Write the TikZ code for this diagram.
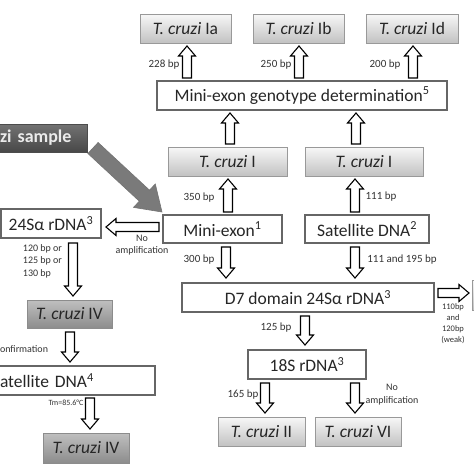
\documentclass[tikz,border=0pt]{standalone}
\usepackage{fontspec}
\setmainfont{Carlito}
\usetikzlibrary{calc,shadows}

% block (hollow) arrow between two coordinates
\newcommand{\blockarrow}[6][]{%
  \coordinate (ba) at #2;
  \coordinate (bb) at #3;
  \coordinate (bh) at ($(bb)!#6!(ba)$);
  \draw[#1] ($(ba)!#4!90:(bb)$) -- ($(bh)!#4!-90:(ba)$) -- ($(bh)!#5!-90:(ba)$) -- (bb)
    -- ($(bh)!#5!90:(ba)$) -- ($(bh)!#4!90:(ba)$) -- ($(ba)!#4!-90:(bb)$) -- cycle;
}

\begin{document}
\begin{tikzpicture}[x=1pt,y=-1pt,
  every node/.style={inner sep=0pt, outer sep=0pt},
  box/.style={font=\fontsize{17.5}{20}\selectfont, text=black!85, minimum height=29pt},
  whitebox/.style={box, draw=black!60, line width=1.1pt, fill=white},
  shad/.style={drop shadow={opacity=0.35, shadow xshift=1.3pt, shadow yshift=-1.3pt}},
  lightbox/.style={box, shad, draw=black!40, line width=0.8pt, top color=black!3, bottom color=black!24},
  darkbox/.style={box, shad, draw=black!45, line width=0.8pt, top color=black!25, bottom color=black!45},
  samplebox/.style={shad, draw=black!70, line width=0.8pt, top color=black!55, bottom color=black!72,
     font=\bfseries\fontsize{18}{20}\selectfont, text=black!8, minimum height=28pt},
  lbl/.style={font=\fontsize{11}{12}\selectfont, text=black!80},
  slbl/.style={font=\fontsize{10}{12.5}\selectfont, text=black!80},
  hollow/.style={draw=black, line width=1.1pt, fill=white, line join=miter},
  bigarrow/.style={draw=black!55, line width=0.6pt, fill=black!52, line join=miter}
]
\useasboundingbox (0,0) rectangle (474,474);
\clip (0,0) rectangle (474,474);
\fill[white] (0,0) rectangle (474,474);

% --- top row ---
\node[lightbox, minimum width=91pt] (ia) at (185.5,28.5) {\textit{T. cruzi} Ia};
\node[lightbox, minimum width=91pt] (ib) at (298.5,28.5) {\textit{T. cruzi} Ib};
\node[lightbox, minimum width=92pt] (id) at (412,28.5) {\textit{T. cruzi} Id};

\node[whitebox, minimum width=290pt] (geno) at (302,95.5) {Mini-exon genotype determination\textsuperscript{5}};

\node[lightbox, minimum width=119pt] (tcIa) at (227.5,161.5) {\textit{T. cruzi} I};
\node[lightbox, minimum width=118pt] (tcIb) at (364,161.5) {\textit{T. cruzi} I};

\node[samplebox, text width=75pt, inner xsep=12pt, align=left] (sample) at (37.5,138) {zi sample};

\node[whitebox, minimum width=119pt, minimum height=28pt] (mini) at (222.5,229) {Mini-exon\textsuperscript{1}};
\node[whitebox, minimum width=124pt, minimum height=28pt] (sat) at (367,229) {Satellite DNA\textsuperscript{2}};
\node[whitebox, minimum width=100pt] (r24) at (51,223.5) {24Sα rDNA\textsuperscript{3}};

\node[whitebox, minimum width=252pt] (d7) at (308,297.5) {D7 domain 24Sα rDNA\textsuperscript{3}};
\node[lightbox, minimum width=36pt, minimum height=30pt] (cut) at (490,295) {};

\node[darkbox, minimum width=85pt, minimum height=28pt] (tc4a) at (69.5,314) {\textit{T. cruzi} IV};
\node[whitebox, text width=150pt, inner xsep=5pt, align=left] (sat4) at (75,380.5) {atellite DNA\textsuperscript{4}};
\node[darkbox, minimum width=86pt, minimum height=30pt] (tc4b) at (86,448) {\textit{T. cruzi} IV};

\node[whitebox, minimum width=118pt] (s18) at (307,364.5) {18S rDNA\textsuperscript{3}};
\node[lightbox, minimum width=87pt] (tc2) at (261.5,431.5) {\textit{T. cruzi} II};
\node[lightbox, minimum width=86pt] (tc6) at (358,431.5) {\textit{T. cruzi} VI};

% --- arrows ---
\def\ah{4.5pt}\def\hh{8.5pt}\def\hl{10pt}
\blockarrow[hollow]{($(ia.south |- geno.north)+(1.5,-3)$)}{($(ia.south)+(1.5,3)$)}{\ah}{\hh}{\hl}
\blockarrow[hollow]{($(ib.south |- geno.north)+(0.5,-3)$)}{($(ib.south)+(0.5,3)$)}{\ah}{\hh}{\hl}
\blockarrow[hollow]{($(id.south |- geno.north)+(1,-3)$)}{($(id.south)+(1,3)$)}{\ah}{\hh}{\hl}
\blockarrow[hollow]{($(tcIa.north)+(2.5,-3)$)}{($(tcIa.north |- geno.south)+(2.5,3)$)}{\ah}{\hh}{\hl}
\blockarrow[hollow]{($(tcIb.north)+(-8,-3)$)}{($(tcIb.north |- geno.south)+(-8,3)$)}{\ah}{\hh}{\hl}
\blockarrow[hollow]{($(tcIa.south |- mini.north)+(0.5,-3)$)}{($(tcIa.south)+(0.5,3)$)}{\ah}{\hh}{\hl}
\blockarrow[hollow]{($(tcIb.south |- sat.north)+(-9,-3)$)}{($(tcIb.south)+(-9,3)$)}{\ah}{\hh}{\hl}
\blockarrow[hollow]{($(mini.west)+(-4,-2)$)}{($(r24.east |- mini.west)+(5,-2)$)}{\ah}{\hh}{\hl}
\blockarrow[hollow]{($(mini.south)+(3.5,4)$)}{($(d7.north -| mini.south)+(3.5,-5)$)}{\ah}{\hh}{\hl}
\blockarrow[hollow]{($(sat.south)+(-12,4)$)}{($(d7.north -| sat.south)+(-12,-5)$)}{\ah}{\hh}{\hl}
\blockarrow[hollow]{($(d7.east)+(4,-4.5)$)}{($(cut.west |- d7.east)+(-3,-4.5)$)}{\ah}{\hh}{\hl}
\blockarrow[hollow]{($(tc4a.north |- r24.south)+(3.5,5)$)}{($(tc4a.north)+(3.5,-4)$)}{\ah}{\hh}{\hl}
\blockarrow[hollow]{($(tc4a.south)+(0.5,4)$)}{($(tc4a.south |- sat4.north)+(0.5,-4)$)}{\ah}{\hh}{\hl}
\blockarrow[hollow]{($(tc4b.north |- sat4.south)+(4,3)$)}{($(tc4b.north)+(4,-4)$)}{\ah}{\hh}{\hl}
\blockarrow[hollow]{($(s18.north |- d7.south)+(-2,4)$)}{($(s18.north)+(-2,-5)$)}{\ah}{\hh}{\hl}
\blockarrow[hollow]{($(tc2.north |- s18.south)+(3.5,4)$)}{($(tc2.north)+(3.5,-4)$)}{\ah}{\hh}{\hl}
\blockarrow[hollow]{($(tc6.north |- s18.south)+(-3,4)$)}{($(tc6.north)+(-3,-4)$)}{\ah}{\hh}{\hl}

% big grey arrow from the sample
\blockarrow[bigarrow]{($(sample.south east)+(6,-4)$)}{($(mini.north west)+(-1,-3)$)}{7.5pt}{16pt}{24pt}

% --- labels ---
\node[lbl] (l228) at (164,65) {228 bp};
\node[lbl] (l250) at (276,65) {250 bp};
\node[lbl] (l200) at (385,65) {200 bp};
\node[lbl] (l350) at (199,198) {350 bp};
\node[lbl] (l111) at (381,197) {111 bp};
\node[lbl] (l300) at (199,260) {300 bp};
\node[lbl] (l111b) at (402,260) {111 and 195 bp};
\node[slbl, align=center] (lnoamp) at (142,245) {No\\amplification};
\node[slbl, align=left, anchor=west] (l120) at (23,261) {120 bp or\\125 bp or\\130 bp};
\node[slbl, anchor=west] (lconf) at (0,349) {onfirmation};
\node[font=\fontsize{8}{9}\selectfont, text=black!80] (ltm) at (66,403) {Tm=85.6°C};
\node[font=\fontsize{8.5}{11}\selectfont, text=black!80, align=center] (l110) at (453,324) {110bp\\and\\120bp\\(weak)};
\node[lbl] (l125) at (276,328) {125 bp};
\node[lbl] (l165) at (243,395) {165 bp};
\node[slbl, align=center] (lnoamp2) at (392,394.5) {No\\amplification};
\end{tikzpicture}
\end{document}
